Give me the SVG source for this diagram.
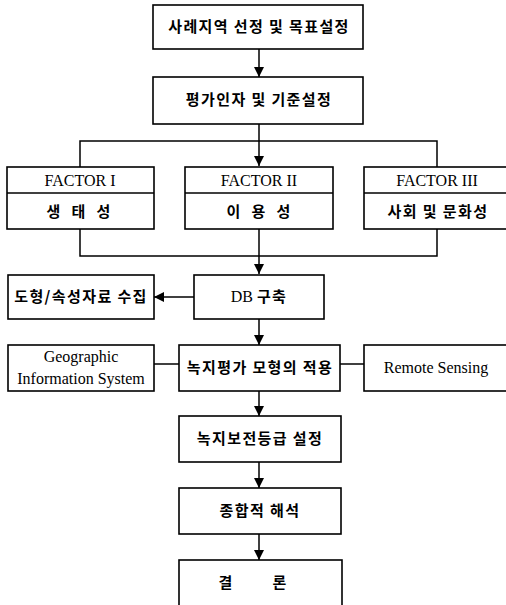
<svg xmlns="http://www.w3.org/2000/svg" width="506" height="605" viewBox="0 0 506 605">
<defs>
<style>
.box{fill:#fff;stroke:#000;stroke-width:1.6}
.ln{fill:none;stroke:#000;stroke-width:1.5}
.ko{font-family:"Noto Sans CJK KR","Noto Sans",sans-serif;font-weight:bold;font-size:15px;letter-spacing:1.4px;text-anchor:middle;fill:#000}
.en{font-family:"Liberation Serif",serif;font-size:16px;text-anchor:middle;fill:#000}
</style>
<marker id="ah" viewBox="0 0 10 10" refX="10" refY="5" markerWidth="10" markerHeight="10" markerUnits="userSpaceOnUse" orient="auto">
<path d="M0,0 L10,5 L0,10 Z" fill="#000"/>
</marker>
</defs>
<rect width="506" height="605" fill="#fff"/>
<g id="connectors">
<line class="ln" x1="259" y1="49" x2="259" y2="77" marker-end="url(#ah)"/>
<polyline class="ln" points="80,167 80,141 437,141 437,167"/>
<line class="ln" x1="259" y1="124" x2="259" y2="166" marker-end="url(#ah)"/>
<polyline class="ln" points="80,229 80,256 437,256 437,229"/>
<line class="ln" x1="259" y1="229" x2="259" y2="274" marker-end="url(#ah)"/>
<line class="ln" x1="194" y1="297" x2="154" y2="297" marker-end="url(#ah)"/>
<line class="ln" x1="259" y1="319" x2="259" y2="345" marker-end="url(#ah)"/>
<line class="ln" x1="154" y1="364" x2="179" y2="364"/>
<line class="ln" x1="340" y1="364" x2="364" y2="364"/>
<line class="ln" x1="259" y1="391" x2="259" y2="416" marker-end="url(#ah)"/>
<line class="ln" x1="259" y1="462" x2="259" y2="488" marker-end="url(#ah)"/>
<line class="ln" x1="259" y1="534" x2="259" y2="560" marker-end="url(#ah)"/>
</g>
<g id="n1"><rect class="box" x="153" y="5" width="210" height="44"/><text class="ko" x="259" y="32">사례지역 선정 및 목표설정</text></g>
<g id="n2"><rect class="box" x="153" y="77" width="210" height="47"/><text class="ko" x="259" y="105">평가인자 및 기준설정</text></g>
<g id="f1"><rect class="box" x="7" y="167" width="147" height="62"/><line class="ln" x1="7" y1="193" x2="154" y2="193"/><text class="en" x="80" y="186">FACTOR I</text><text class="ko" x="79" y="217" word-spacing="5">생 태 성</text></g>
<g id="f2"><rect class="box" x="185" y="167" width="148" height="62"/><line class="ln" x1="185" y1="193" x2="333" y2="193"/><text class="en" x="259" y="186">FACTOR II</text><text class="ko" x="259" y="217" word-spacing="5">이 용 성</text></g>
<g id="f3"><rect class="box" x="364" y="167" width="160" height="62"/><line class="ln" x1="364" y1="193" x2="520" y2="193"/><text class="en" x="437" y="186">FACTOR III</text><text class="ko" x="438" y="217">사회 및 문화성</text></g>
<g id="n3"><rect class="box" x="8" y="275" width="146" height="44"/><text class="ko" x="81" y="302">도형/속성자료 수집</text></g>
<g id="n4"><rect class="box" x="194" y="275" width="130" height="44"/><text x="259" y="302" text-anchor="middle"><tspan style="font-family:'Liberation Serif',serif;font-size:16px">DB </tspan><tspan class="ko" style="text-anchor:start">구축</tspan></text></g>
<g id="n5"><rect class="box" x="8" y="345" width="146" height="46"/><text class="en" x="81" y="362">Geographic</text><text class="en" x="81" y="384">Information System</text></g>
<g id="n6"><rect class="box" x="179" y="345" width="161" height="46"/><text class="ko" x="260" y="373">녹지평가 모형의 적용</text></g>
<g id="n7"><rect class="box" x="364" y="345" width="160" height="46"/><text class="en" x="436" y="373">Remote Sensing</text></g>
<g id="n8"><rect class="box" x="179" y="416" width="162" height="46"/><text class="ko" x="260" y="444">녹지보전등급 설정</text></g>
<g id="n9"><rect class="box" x="179" y="488" width="162" height="46"/><text class="ko" x="260" y="516">종합적 해석</text></g>
<g id="n10"><rect class="box" x="179" y="560" width="163" height="60"/><text class="ko" x="253" y="588" word-spacing="34">결 론</text></g>
</svg>
